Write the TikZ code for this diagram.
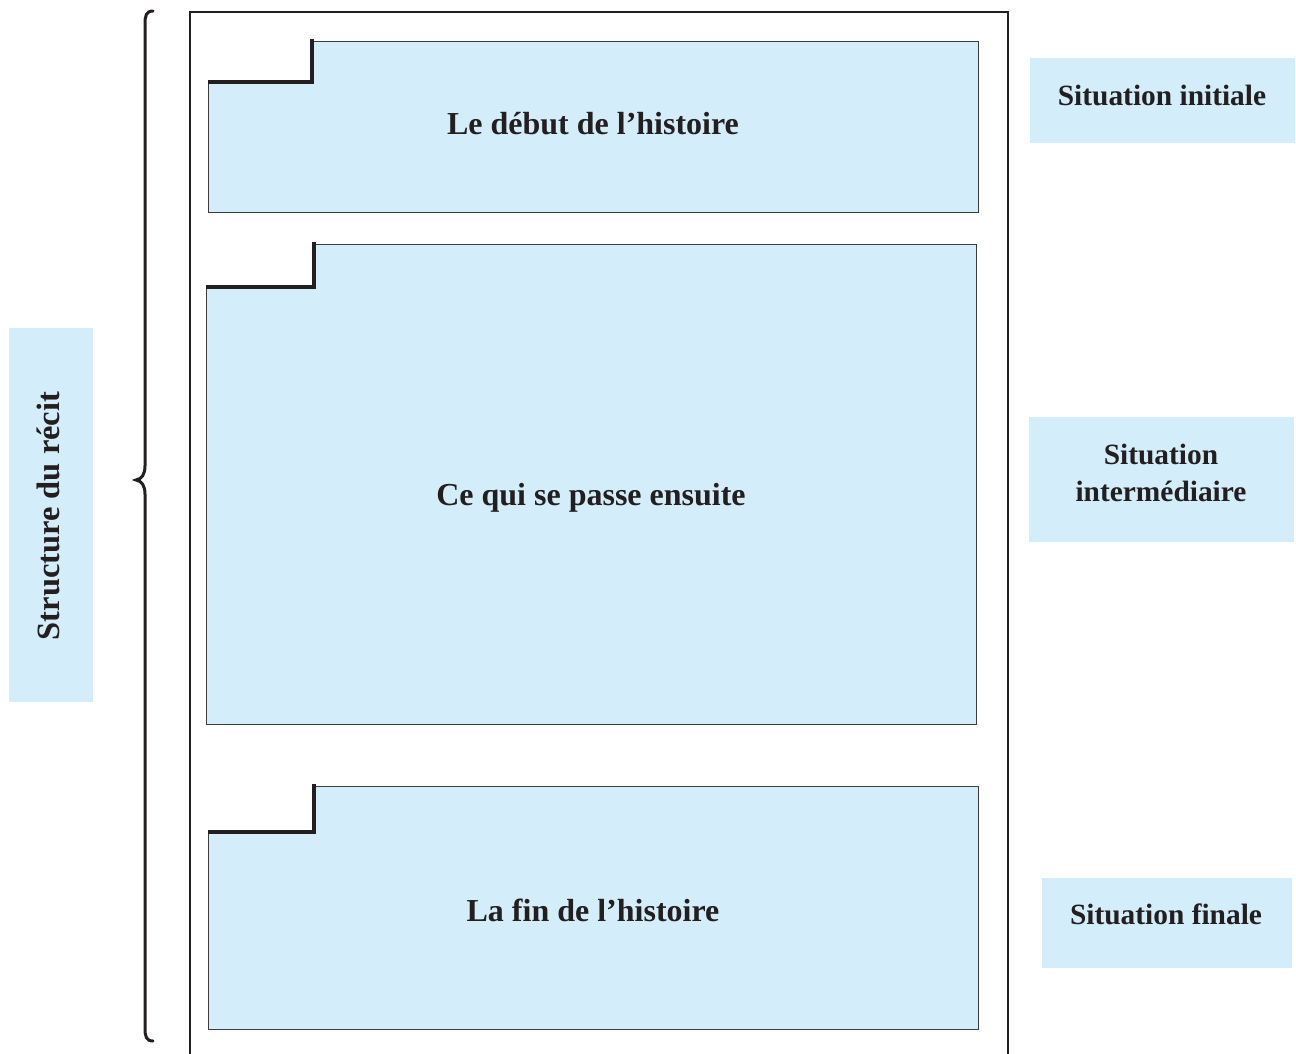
\documentclass[tikz,border=0pt]{standalone}
\usepackage{fontspec}
\setmainfont{Liberation Serif}
\definecolor{boxblue}{RGB}{211,238,250}
\definecolor{edgegray}{RGB}{60,60,60}
\definecolor{inkblack}{RGB}{35,31,32}
\begin{document}
\begin{tikzpicture}[x=1pt,y=-1pt,
  panel/.style={fill=boxblue,draw=edgegray,line width=1pt},
  notch/.style={draw=inkblack,line width=4pt,line cap=butt},
  maintext/.style={font=\bfseries\fontsize{32}{36}\selectfont,text=inkblack},
  sidebox/.style={fill=boxblue,inner sep=0pt},
  sidetext/.style={align=center,inner sep=0pt,font=\bfseries\fontsize{29.4}{37}\selectfont,text=inkblack}]
\useasboundingbox (0,0) rectangle (1296,1054);
% outer frame (open at the bottom)
\draw[inkblack,line width=2pt] (190,1056) -- (190,12) -- (1008,12) -- (1008,1056);
% brace
\draw[inkblack,line width=3pt,line cap=round]
  (153,11) .. controls (146,11) and (145,16) .. (145,24) -- (145,466)
  .. controls (145,474) and (142,479) .. (136,480)
  .. controls (142,481) and (145,486) .. (145,494) -- (145,1028)
  .. controls (145,1036) and (146,1041) .. (153,1041);
% panel 1
\path[panel] (208,82) -- (312,82) -- (312,42) -- (978,42) -- (978,212) -- (208,212) -- cycle;
\draw[notch] (208,82) -- (312,82) -- (312,39);
\node[maintext] (p1) at (593,124) {Le début de l’histoire};
% panel 2
\path[panel] (206,287) -- (314,287) -- (314,244) -- (976,244) -- (976,724) -- (206,724) -- cycle;
\draw[notch] (206,287) -- (314,287) -- (314,242);
\node[maintext] (p2) at (591,498) {Ce qui se passe ensuite};
% panel 3
\path[panel] (208,832) -- (314,832) -- (314,786) -- (978,786) -- (978,1029) -- (208,1029) -- cycle;
\draw[notch] (208,832) -- (314,832) -- (314,784);
\node[maintext] (p3) at (593,910) {La fin de l’histoire};
% side labels
\node[sidebox,minimum width=265pt,minimum height=85pt] (b1) at (1162.5,100.5) {};
\node[sidetext] (l1) at (1162,95) {Situation initiale};
\node[sidebox,minimum width=265pt,minimum height=125pt] (b2) at (1161.5,479.5) {};
\node[sidetext] (l2) at (1161,473) {Situation\\intermédiaire};
\node[sidebox,minimum width=250pt,minimum height=90pt] (b3) at (1167,923) {};
\node[sidetext] (l3) at (1166,914) {Situation finale};
\node[sidebox,minimum width=84pt,minimum height=374pt] (b0) at (51,515) {};
\node[font=\bfseries\fontsize{32.5}{36}\selectfont,text=inkblack,rotate=90] (l0) at (48,516) {Structure du récit};
\end{tikzpicture}
\end{document}
